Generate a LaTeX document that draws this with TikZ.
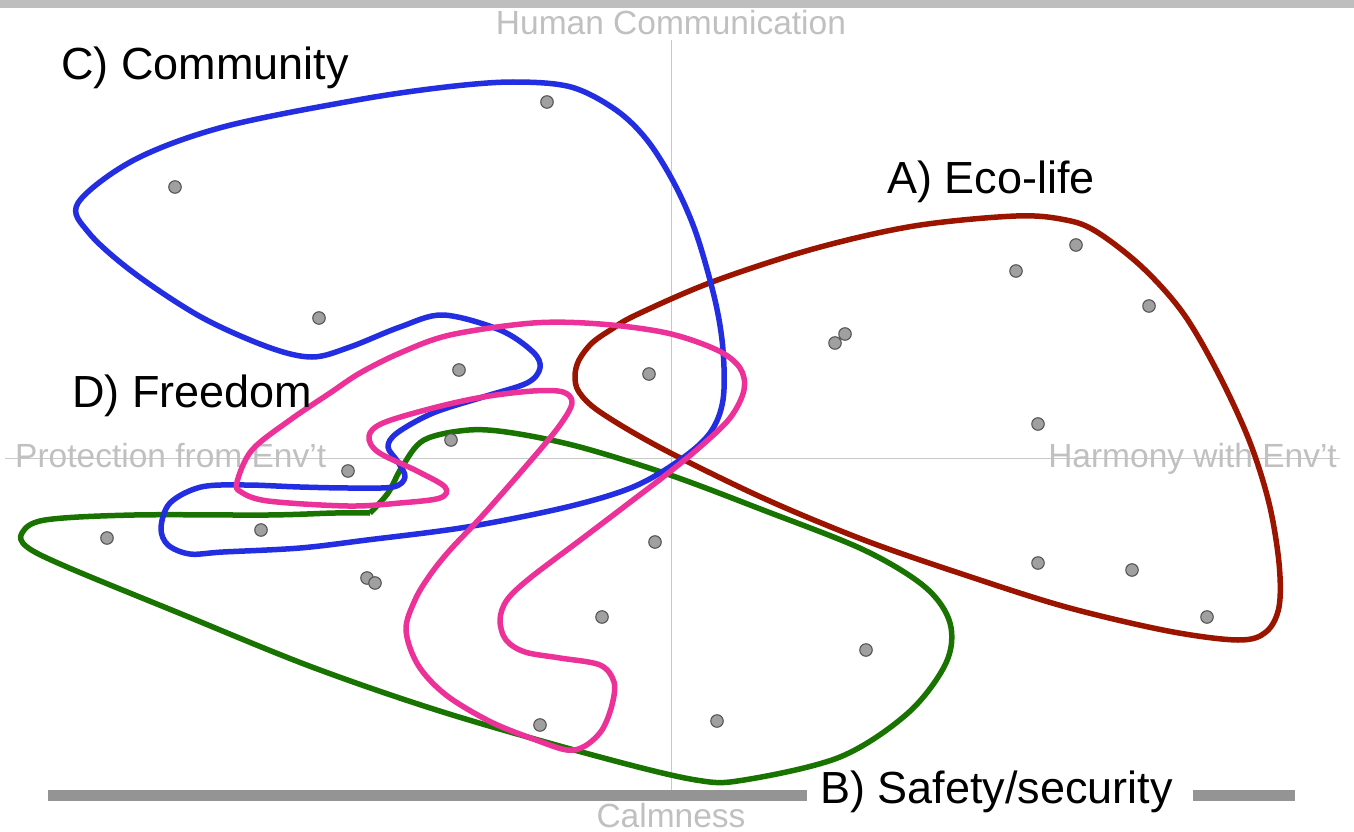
\documentclass[tikz,border=0pt]{standalone}
\usepackage{fontspec}
\setmainfont{Liberation Sans}
\usepackage{tikz}
\definecolor{ecored}{RGB}{155,20,0}
\definecolor{safegreen}{RGB}{25,115,0}
\definecolor{commblue}{RGB}{35,45,225}
\definecolor{freepink}{RGB}{236,50,152}
\definecolor{dotgray}{RGB}{160,160,160}
\definecolor{dotrim}{RGB}{85,85,85}
\definecolor{axisgray}{RGB}{200,200,200}
\definecolor{labelgray}{RGB}{192,192,192}
\definecolor{bargray}{RGB}{148,148,148}
\definecolor{topgray}{RGB}{190,190,190}
\tikzset{
    dot/.style={circle, fill=dotgray, draw=dotrim, line width=1.1pt,
    	minimum size=12.5pt, inner sep=0pt}
}
\tikzset{
    group/.style={font=\fontsize{45}{54}\selectfont, inner sep=0pt},
    axislabel/.style={font=\fontsize{33.5}{40}\selectfont, text=labelgray,
    	inner sep=0pt}
}
\tikzset{
    blob/.style={line width=5.5pt, line join=round}
}

\begin{document}
\begin{tikzpicture}[x=1pt, y=-1pt]
	\useasboundingbox (0,0) rectangle (1354,832);
	\fill[topgray] (0,0) rectangle (1354,8.5);

	\coordinate (top) at (671,40); \coordinate (bottom) at (671,792);
	\coordinate (left) at (5,458); \coordinate (right) at (1340,458);
	\draw[axisgray, line width=1pt] (left) -- (right);
	\draw[axisgray, line width=1pt] (top) -- (bottom);

	\node (human) [axislabel, anchor=base] at (671,35) {Human Communication};
	\node (protect) [axislabel, anchor=base west] at (15,467) {Protection from Env’t};
	\node (harmony) [axislabel, anchor=base east] at (1337,467) {Harmony with Env’t};
	\node (calm) [axislabel, anchor=base] at (671,827) {Calmness};

	\draw[blob, ecored] plot[smooth cycle, tension=0.55] coordinates {
		(575,376) (579,360) (592,343) (612,329) (636,315) (712,282) (813,249)
		(914,226) (1016,216) (1066,220) (1097,232) (1142,267) (1183,313)
		(1218,373) (1249,440) (1269,503) (1279,563) (1279,607) (1266,632)
		(1238,640) (1168,631) (1066,607) (965,575) (864,540) (763,498)
		(661,448) (600,412) (579,392)};
	\draw[blob, safegreen] plot[smooth, tension=0.55] coordinates {
		(370,513) (388,493) (402,467) (424,440) (469,430) (513,433) (580,447)
		(670,475) (763,510) (864,550) (925,587) (950,623) (946,663) (908,713)
		(840,757) (744,780) (696,780) (600,757) (446,713) (312,667) (179,613)
		(67,567) (27,547) (22,533) (45,520) (134,515) (268,515) (335,513) (370,513)};
	\draw[blob, commblue] plot[smooth cycle, tension=0.55] coordinates {
		(78,203) (134,160) (223,127) (357,100) (446,87) (513,82) (571,87)
		(616,110) (647,140) (674,183) (696,233) (715,300) (723,350) (723,400)
		(710,433) (680,460) (633,487) (567,507) (467,527) (367,540) (300,548)
		(223,552) (190,554) (168,545) (161,528) (170,503) (201,487) (246,485)
		(300,487) (350,488) (393,487) (405,477) (398,462) (388,447) (397,433)
		(433,413) (483,397) (527,383) (540,368) (533,352) (500,330) (443,315)
		(400,327) (350,347) (312,357) (268,347) (201,317) (134,273) (89,233)};
	\draw[blob, freepink] plot[smooth cycle, tension=0.55] coordinates {
		(237,482) (252,450) (290,420) (330,393) (360,373) (400,353) (450,335)
		(533,323) (600,324) (667,333) (717,350) (740,368) (744,390) (730,418)
		(700,447) (667,474) (633,500) (583,538) (530,578) (507,600) (500,620)
		(506,640) (525,652) (560,658) (600,665) (614,682) (612,705) (602,730)
		(585,746) (567,750) (536,740) (491,722) (446,695) (418,665) (406,630)
		(415,600) (430,575) (450,550) (483,515) (533,458) (560,425) (572,403)
		(563,392) (533,391) (483,397) (433,408) (383,423) (369,436) (378,452)
		(417,471) (445,487) (440,498) (400,503) (348,506) (268,501) (241,492)};

	\node (1) [dot] at (547,102) {};
	\node (2) [dot] at (175,187) {};
	\node (3) [dot] at (319,318) {};
	\node (4) [dot] at (459,370) {};
	\node (5) [dot] at (649,374) {};
	\node (6) [dot] at (451,440) {};
	\node (7) [dot] at (348,471) {};
	\node (8) [dot] at (261,530) {};
	\node (9) [dot] at (107,538) {};
	\node (10) [dot] at (367,578) {};
	\node (11) [dot] at (375,583) {};
	\node (12) [dot] at (655,542) {};
	\node (13) [dot] at (602,617) {};
	\node (14) [dot] at (540,725) {};
	\node (15) [dot] at (717,721) {};
	\node (16) [dot] at (866,650) {};
	\node (17) [dot] at (1016,271) {};
	\node (18) [dot] at (1076,245) {};
	\node (19) [dot] at (1149,306) {};
	\node (20) [dot] at (845,334) {};
	\node (21) [dot] at (835,343) {};
	\node (22) [dot] at (1038,424) {};
	\node (23) [dot] at (1038,563) {};
	\node (24) [dot] at (1132,570) {};
	\node (25) [dot] at (1207,617) {};

	\node (C) [group, anchor=base west] at (61,80) {C) Community};
	\node (A) [group, anchor=base west] at (887,193) {A) Eco-life};
	\node (D) [group, anchor=base west] at (72,407) {D) Freedom};
	\node (B) [group, anchor=base west] at (820,803) {B) Safety/security};

	\coordinate (barL) at (48,795); \coordinate (barR) at (1295,795);
	\draw[bargray, line width=11pt, shorten >=13pt] (barL) -- (barL -| B.west);
	\draw[bargray, line width=11pt, shorten <=20pt] (barR -| B.east) -- (barR);
\end{tikzpicture}
\end{document}
